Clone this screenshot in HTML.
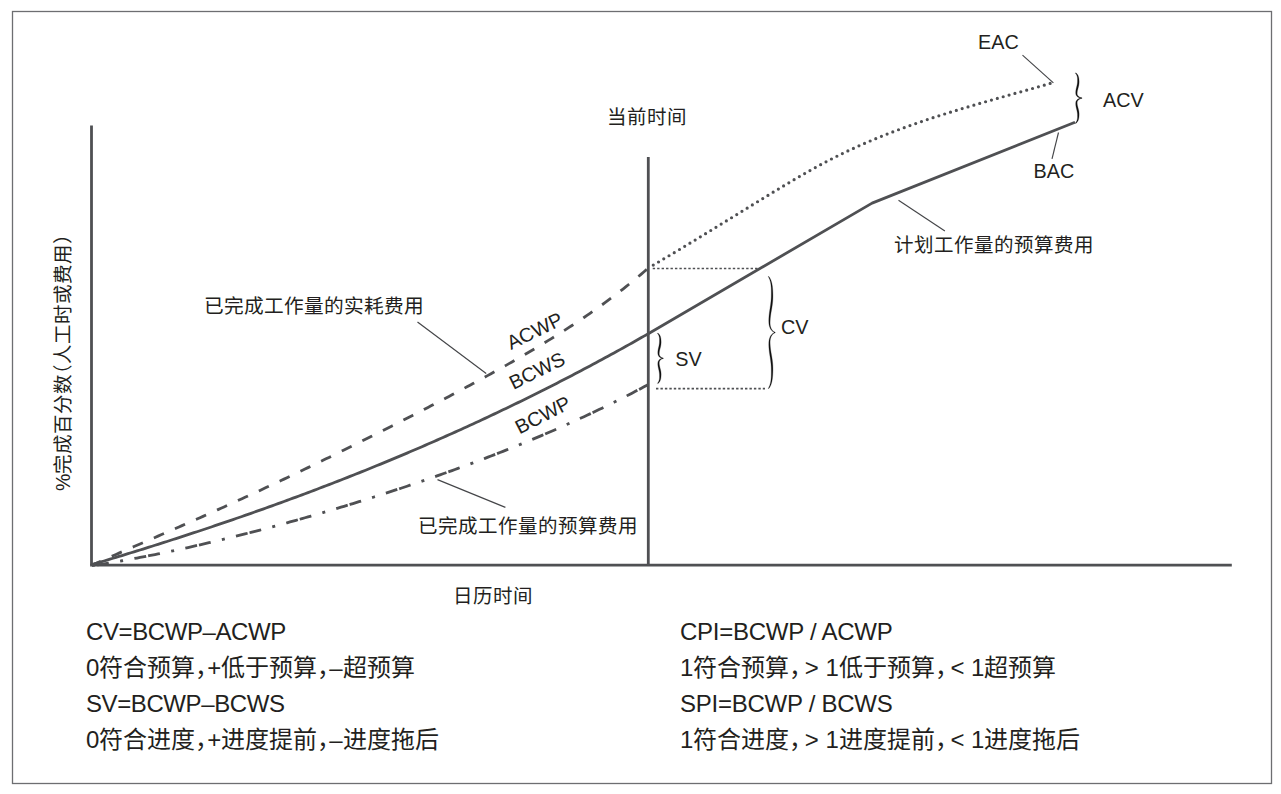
<!DOCTYPE html>
<html lang="zh-CN"><head><meta charset="utf-8"><style>
html,body{margin:0;padding:0;background:#fff;width:1281px;height:794px;overflow:hidden;position:relative}
</style></head><body>
<svg width="1281" height="794" viewBox="0 0 1281 794" style="position:absolute;left:0;top:0">
<rect x="12.5" y="11.5" width="1259" height="772" fill="none" stroke="#6d6e71" stroke-width="1.3"/>
<g stroke="#4f5053" stroke-width="2.8" fill="none">
<line x1="91.5" y1="125.5" x2="91.5" y2="565"/>
<line x1="90.1" y1="565.1" x2="1231.8" y2="565.1"/>
<line x1="648.3" y1="157" x2="648.3" y2="566" stroke-width="2.8"/>
<path d="M92.00 564.57 L95.00 563.68 L98.00 562.79 L101.00 561.89 L104.00 560.99 L107.00 560.09 L110.00 559.18 L113.00 558.28 L116.00 557.37 L119.00 556.45 L122.00 555.54 L125.00 554.62 L128.00 553.70 L131.00 552.77 L134.00 551.85 L137.00 550.92 L140.00 549.99 L143.00 549.05 L146.00 548.11 L149.00 547.17 L152.00 546.23 L155.00 545.28 L158.00 544.33 L161.00 543.38 L164.00 542.42 L167.00 541.47 L170.00 540.50 L173.00 539.54 L176.00 538.57 L179.00 537.60 L182.00 536.63 L185.00 535.65 L188.00 534.67 L191.00 533.68 L194.00 532.70 L197.00 531.71 L200.00 530.71 L203.00 529.72 L206.00 528.72 L209.00 527.71 L212.00 526.71 L215.00 525.70 L218.00 524.68 L221.00 523.67 L224.00 522.65 L227.00 521.62 L230.00 520.60 L233.00 519.57 L236.00 518.53 L239.00 517.49 L242.00 516.45 L245.00 515.41 L248.00 514.36 L251.00 513.31 L254.00 512.25 L257.00 511.19 L260.00 510.13 L263.00 509.06 L266.00 507.99 L269.00 506.92 L272.00 505.84 L275.00 504.76 L278.00 503.67 L281.00 502.58 L284.00 501.49 L287.00 500.39 L290.00 499.29 L293.00 498.18 L296.00 497.08 L299.00 495.96 L302.00 494.85 L305.00 493.73 L308.00 492.60 L311.00 491.47 L314.00 490.34 L317.00 489.20 L320.00 488.06 L323.00 486.92 L326.00 485.77 L329.00 484.61 L332.00 483.45 L335.00 482.29 L338.00 481.13 L341.00 479.96 L344.00 478.78 L347.00 477.60 L350.00 476.42 L353.00 475.23 L356.00 474.04 L359.00 472.84 L362.00 471.64 L365.00 470.44 L368.00 469.23 L371.00 468.01 L374.00 466.79 L377.00 465.57 L380.00 464.34 L383.00 463.11 L386.00 461.87 L389.00 460.63 L392.00 459.39 L395.00 458.14 L398.00 456.88 L401.00 455.62 L404.00 454.36 L407.00 453.09 L410.00 451.81 L413.00 450.53 L416.00 449.25 L419.00 447.96 L422.00 446.67 L425.00 445.37 L428.00 444.07 L431.00 442.76 L434.00 441.45 L437.00 440.13 L440.00 438.81 L443.00 437.48 L446.00 436.15 L449.00 434.81 L452.00 433.47 L455.00 432.12 L458.00 430.77 L461.00 429.41 L464.00 428.05 L467.00 426.68 L470.00 425.31 L473.00 423.93 L476.00 422.55 L479.00 421.16 L482.00 419.76 L485.00 418.36 L488.00 416.96 L491.00 415.55 L494.00 414.13 L497.00 412.71 L500.00 411.29 L503.00 409.86 L506.00 408.42 L509.00 406.98 L512.00 405.53 L515.00 404.08 L518.00 402.62 L521.00 401.16 L524.00 399.69 L527.00 398.21 L530.00 396.73 L533.00 395.24 L536.00 393.75 L539.00 392.26 L542.00 390.75 L545.00 389.24 L548.00 387.73 L551.00 386.21 L554.00 384.68 L557.00 383.15 L560.00 381.61 L563.00 380.07 L566.00 378.52 L569.00 376.97 L572.00 375.41 L575.00 373.84 L578.00 372.27 L581.00 370.69 L584.00 369.10 L587.00 367.51 L590.00 365.92 L593.00 364.32 L596.00 362.71 L599.00 361.09 L602.00 359.47 L605.00 357.84 L608.00 356.21 L611.00 354.57 L614.00 352.93 L617.00 351.28 L620.00 349.62 L623.00 347.96 L626.00 346.29 L629.00 344.61 L632.00 342.93 L635.00 341.24 L638.00 339.54 L641.00 337.84 L644.00 336.13 L647.00 334.42 L650.00 332.70 L872.1 203.1 L1075 122.3" stroke-linejoin="round"/>
<path d="M92.00 565.12 L95.00 563.77 L98.00 562.42 L101.00 561.08 L104.00 559.74 L107.00 558.41 L110.00 557.09 L113.00 555.76 L116.00 554.44 L119.00 553.12 L122.00 551.81 L125.00 550.50 L128.00 549.19 L131.00 547.88 L134.00 546.57 L137.00 545.26 L140.00 543.96 L143.00 542.65 L146.00 541.34 L149.00 540.04 L152.00 538.73 L155.00 537.43 L158.00 536.12 L161.00 534.82 L164.00 533.51 L167.00 532.20 L170.00 530.89 L173.00 529.58 L176.00 528.26 L179.00 526.95 L182.00 525.63 L185.00 524.31 L188.00 522.99 L191.00 521.67 L194.00 520.34 L197.00 519.01 L200.00 517.68 L203.00 516.35 L206.00 515.01 L209.00 513.67 L212.00 512.33 L215.00 510.98 L218.00 509.63 L221.00 508.28 L224.00 506.93 L227.00 505.57 L230.00 504.21 L233.00 502.84 L236.00 501.47 L239.00 500.10 L242.00 498.73 L245.00 497.35 L248.00 495.97 L251.00 494.58 L254.00 493.19 L257.00 491.80 L260.00 490.40 L263.00 489.01 L266.00 487.60 L269.00 486.20 L272.00 484.79 L275.00 483.38 L278.00 481.96 L281.00 480.54 L284.00 479.12 L287.00 477.69 L290.00 476.26 L293.00 474.83 L296.00 473.39 L299.00 471.95 L302.00 470.51 L305.00 469.07 L308.00 467.62 L311.00 466.17 L314.00 464.71 L317.00 463.25 L320.00 461.79 L323.00 460.33 L326.00 458.86 L329.00 457.39 L332.00 455.92 L335.00 454.45 L338.00 452.97 L341.00 451.49 L344.00 450.00 L347.00 448.52 L350.00 447.03 L353.00 445.54 L356.00 444.04 L359.00 442.55 L362.00 441.05 L365.00 439.55 L368.00 438.04 L371.00 436.53 L374.00 435.03 L377.00 433.51 L380.00 432.00 L383.00 430.48 L386.00 428.96 L389.00 427.44 L392.00 425.91 L395.00 424.39 L398.00 422.86 L401.00 421.32 L404.00 419.79 L407.00 418.25 L410.00 416.71 L413.00 415.16 L416.00 413.62 L419.00 412.07 L422.00 410.51 L425.00 408.96 L428.00 407.40 L431.00 405.84 L434.00 404.27 L437.00 402.70 L440.00 401.13 L443.00 399.55 L446.00 397.97 L449.00 396.39 L452.00 394.80 L455.00 393.21 L458.00 391.61 L461.00 390.01 L464.00 388.41 L467.00 386.80 L470.00 385.18 L473.00 383.56 L476.00 381.94 L479.00 380.31 L482.00 378.67 L485.00 377.03 L488.00 375.38 L491.00 373.73 L494.00 372.07 L497.00 370.40 L500.00 368.72 L503.00 367.04 L506.00 365.35 L509.00 363.65 L512.00 361.94 L515.00 360.23 L518.00 358.50 L521.00 356.77 L524.00 355.03 L527.00 353.27 L530.00 351.51 L533.00 349.73 L536.00 347.95 L539.00 346.15 L542.00 344.34 L545.00 342.52 L548.00 340.68 L551.00 338.83 L554.00 336.97 L557.00 335.10 L560.00 333.20 L563.00 331.30 L566.00 329.38 L569.00 327.44 L572.00 325.48 L575.00 323.51 L578.00 321.52 L581.00 319.51 L584.00 317.48 L587.00 315.43 L590.00 313.36 L593.00 311.26 L596.00 309.15 L599.00 307.02 L602.00 304.86 L605.00 302.67 L608.00 300.46 L611.00 298.23 L614.00 295.97 L617.00 293.68 L620.00 291.37 L623.00 289.03 L626.00 286.65 L629.00 284.25 L632.00 281.82 L635.00 279.35 L638.00 276.85 L641.00 274.32 L644.00 271.75 L647.00 269.14 L648.00 268.27" stroke-dasharray="11 12" stroke-dashoffset="1.4"/>
<path d="M92.00 565.69 L95.00 565.23 L98.00 564.76 L101.00 564.29 L104.00 563.80 L107.00 563.31 L110.00 562.81 L113.00 562.31 L116.00 561.80 L119.00 561.27 L122.00 560.75 L125.00 560.21 L128.00 559.67 L131.00 559.12 L134.00 558.57 L137.00 558.01 L140.00 557.44 L143.00 556.87 L146.00 556.29 L149.00 555.70 L152.00 555.10 L155.00 554.51 L158.00 553.90 L161.00 553.29 L164.00 552.67 L167.00 552.05 L170.00 551.42 L173.00 550.78 L176.00 550.14 L179.00 549.49 L182.00 548.84 L185.00 548.18 L188.00 547.52 L191.00 546.85 L194.00 546.17 L197.00 545.49 L200.00 544.81 L203.00 544.12 L206.00 543.42 L209.00 542.72 L212.00 542.01 L215.00 541.30 L218.00 540.58 L221.00 539.86 L224.00 539.13 L227.00 538.40 L230.00 537.67 L233.00 536.92 L236.00 536.18 L239.00 535.43 L242.00 534.67 L245.00 533.91 L248.00 533.15 L251.00 532.38 L254.00 531.60 L257.00 530.82 L260.00 530.04 L263.00 529.25 L266.00 528.46 L269.00 527.66 L272.00 526.86 L275.00 526.05 L278.00 525.24 L281.00 524.42 L284.00 523.60 L287.00 522.78 L290.00 521.95 L293.00 521.12 L296.00 520.28 L299.00 519.44 L302.00 518.59 L305.00 517.74 L308.00 516.89 L311.00 516.03 L314.00 515.17 L317.00 514.30 L320.00 513.43 L323.00 512.55 L326.00 511.67 L329.00 510.78 L332.00 509.89 L335.00 509.00 L338.00 508.10 L341.00 507.20 L344.00 506.29 L347.00 505.38 L350.00 504.46 L353.00 503.54 L356.00 502.62 L359.00 501.69 L362.00 500.76 L365.00 499.82 L368.00 498.88 L371.00 497.93 L374.00 496.98 L377.00 496.02 L380.00 495.06 L383.00 494.10 L386.00 493.13 L389.00 492.16 L392.00 491.18 L395.00 490.19 L398.00 489.20 L401.00 488.21 L404.00 487.21 L407.00 486.21 L410.00 485.20 L413.00 484.19 L416.00 483.17 L419.00 482.15 L422.00 481.13 L425.00 480.09 L428.00 479.06 L431.00 478.01 L434.00 476.97 L437.00 475.91 L440.00 474.86 L443.00 473.79 L446.00 472.72 L449.00 471.65 L452.00 470.57 L455.00 469.48 L458.00 468.39 L461.00 467.30 L464.00 466.20 L467.00 465.09 L470.00 463.98 L473.00 462.86 L476.00 461.73 L479.00 460.60 L482.00 459.46 L485.00 458.32 L488.00 457.17 L491.00 456.01 L494.00 454.85 L497.00 453.68 L500.00 452.51 L503.00 451.33 L506.00 450.14 L509.00 448.95 L512.00 447.74 L515.00 446.54 L518.00 445.32 L521.00 444.10 L524.00 442.87 L527.00 441.63 L530.00 440.39 L533.00 439.14 L536.00 437.88 L539.00 436.62 L542.00 435.34 L545.00 434.06 L548.00 432.77 L551.00 431.48 L554.00 430.17 L557.00 428.86 L560.00 427.54 L563.00 426.21 L566.00 424.87 L569.00 423.53 L572.00 422.17 L575.00 420.81 L578.00 419.44 L581.00 418.06 L584.00 416.67 L587.00 415.27 L590.00 413.87 L593.00 412.45 L596.00 411.02 L599.00 409.59 L602.00 408.14 L605.00 406.69 L608.00 405.22 L611.00 403.75 L614.00 402.27 L617.00 400.77 L620.00 399.27 L623.00 397.75 L626.00 396.23 L629.00 394.69 L632.00 393.14 L635.00 391.59 L638.00 390.02 L641.00 388.44 L644.00 386.84 L647.00 385.24 L648.20 384.60" stroke-dasharray="12 2 12 11.5 3 11.5" stroke-dashoffset="9"/>
<path d="M648.50 267.84 L651.50 266.09 L654.50 264.34 L657.50 262.58 L660.50 260.81 L663.50 259.03 L666.50 257.25 L669.50 255.47 L672.50 253.68 L675.50 251.88 L678.50 250.08 L681.50 248.28 L684.50 246.47 L687.50 244.66 L690.50 242.84 L693.50 241.02 L696.50 239.20 L699.50 237.37 L702.50 235.54 L705.50 233.71 L708.50 231.88 L711.50 230.04 L714.50 228.20 L717.50 226.36 L720.50 224.52 L723.50 222.68 L726.50 220.83 L729.50 218.99 L732.50 217.15 L735.50 215.30 L738.50 213.45 L741.50 211.61 L744.50 209.77 L747.50 207.92 L750.50 206.08 L753.50 204.24 L756.50 202.40 L759.50 200.56 L762.50 198.72 L765.50 196.89 L768.50 195.05 L771.50 193.22 L774.50 191.40 L777.50 189.58 L780.50 187.77 L783.50 185.97 L786.50 184.17 L789.50 182.39 L792.50 180.61 L795.50 178.85 L798.50 177.10 L801.50 175.37 L804.50 173.65 L807.50 171.94 L810.50 170.25 L813.50 168.58 L816.50 166.93 L819.50 165.30 L822.50 163.69 L825.50 162.10 L828.50 160.53 L831.50 158.99 L834.50 157.47 L837.50 155.97 L840.50 154.50 L843.50 153.04 L846.50 151.61 L849.50 150.20 L852.50 148.80 L855.50 147.43 L858.50 146.08 L861.50 144.75 L864.50 143.43 L867.50 142.14 L870.50 140.86 L873.50 139.60 L876.50 138.36 L879.50 137.13 L882.50 135.92 L885.50 134.73 L888.50 133.55 L891.50 132.39 L894.50 131.24 L897.50 130.11 L900.50 129.00 L903.50 127.89 L906.50 126.80 L909.50 125.73 L912.50 124.67 L915.50 123.62 L918.50 122.58 L921.50 121.55 L924.50 120.54 L927.50 119.53 L930.50 118.54 L933.50 117.56 L936.50 116.59 L939.50 115.62 L942.50 114.67 L945.50 113.73 L948.50 112.79 L951.50 111.86 L954.50 110.94 L957.50 110.03 L960.50 109.12 L963.50 108.22 L966.50 107.33 L969.50 106.44 L972.50 105.56 L975.50 104.68 L978.50 103.81 L981.50 102.94 L984.50 102.08 L987.50 101.22 L990.50 100.36 L993.50 99.51 L996.50 98.66 L999.50 97.81 L1002.50 96.96 L1005.50 96.12 L1008.50 95.27 L1011.50 94.43 L1014.50 93.59 L1017.50 92.74 L1020.50 91.90 L1023.50 91.05 L1026.50 90.21 L1029.50 89.36 L1032.50 88.51 L1035.50 87.66 L1038.50 86.80 L1041.50 85.94 L1044.50 85.08 L1047.50 84.22 L1050.50 83.35 L1051.70 83.00" stroke-dasharray="0 6.1" stroke-dashoffset="-5.5" stroke-linecap="round" stroke-width="3.2"/>
</g>
<g stroke="#4f5053" stroke-width="1.7" fill="none" stroke-dasharray="2.4 2.05">
<line x1="652.7" y1="268.5" x2="758" y2="268.5"/>
<line x1="656" y1="388.7" x2="765" y2="388.7"/>
</g>
<g stroke="#444548" stroke-width="1.15" fill="none">
<line x1="417.5" y1="322" x2="486.2" y2="373.5"/>
<line x1="437.5" y1="479.6" x2="505.4" y2="507.4"/>
<line x1="898.5" y1="200.3" x2="944.9" y2="230.9"/>
<line x1="1022.5" y1="55.1" x2="1053.4" y2="82.9"/>
<line x1="1058.5" y1="132.5" x2="1052" y2="158.8"/>
</g>
<g fill="#111" stroke="#111" stroke-width="0.25">
<path d="M657.42 333.41 L657.67 333.69 L657.90 333.97 L658.11 334.25 L658.31 334.54 L658.48 334.83 L658.64 335.13 L658.78 335.43 L658.90 335.74 L659.01 336.06 L659.11 336.38 L659.19 336.72 L659.27 337.06 L659.33 337.40 L659.38 337.76 L659.42 338.12 L659.45 338.49 L659.48 338.87 L659.49 339.26 L659.50 339.65 L659.51 340.05 L659.51 340.46 L659.50 340.88 L659.49 341.30 L659.48 341.73 L659.46 342.32 L659.42 342.89 L659.36 343.45 L659.29 343.98 L659.21 344.51 L659.12 345.02 L659.02 345.53 L658.92 346.03 L658.81 346.52 L658.69 347.01 L658.58 347.50 L658.47 347.99 L658.36 348.49 L658.25 348.98 L658.15 349.48 L658.06 349.98 L657.98 350.49 L657.92 351.01 L657.87 351.54 L657.84 352.08 L657.83 352.63 L657.84 353.19 L657.88 353.76 L657.95 354.36 L658.05 354.75 L658.16 355.07 L658.28 355.37 L658.42 355.66 L658.58 355.93 L658.74 356.19 L658.92 356.43 L659.11 356.66 L659.31 356.86 L659.52 357.06 L659.74 357.24 L659.97 357.40 L660.21 357.55 L660.45 357.69 L660.70 357.81 L660.96 357.92 L661.22 358.02 L661.49 358.11 L661.76 358.18 L662.03 358.26 L662.30 358.35 L662.58 358.43 L662.86 358.50 L663.14 358.57 L663.26 358.03 L662.99 357.97 L662.72 357.90 L662.46 357.82 L662.20 357.74 L661.96 357.65 L661.73 357.52 L661.50 357.39 L661.29 357.27 L661.08 357.13 L660.89 356.99 L660.70 356.84 L660.52 356.69 L660.36 356.53 L660.20 356.36 L660.06 356.19 L659.92 356.00 L659.80 355.81 L659.69 355.61 L659.59 355.40 L659.49 355.17 L659.41 354.94 L659.34 354.69 L659.29 354.43 L659.25 354.20 L659.24 353.70 L659.26 353.18 L659.29 352.68 L659.34 352.19 L659.40 351.71 L659.48 351.23 L659.57 350.76 L659.67 350.29 L659.77 349.82 L659.89 349.35 L660.01 348.88 L660.13 348.40 L660.26 347.91 L660.39 347.42 L660.51 346.92 L660.63 346.40 L660.74 345.87 L660.84 345.33 L660.93 344.77 L661.00 344.20 L661.06 343.61 L661.10 343.01 L661.12 342.38 L661.12 341.74 L661.10 341.29 L661.08 340.85 L661.06 340.42 L661.03 339.99 L660.99 339.56 L660.95 339.14 L660.89 338.73 L660.83 338.32 L660.75 337.92 L660.67 337.52 L660.57 337.13 L660.46 336.75 L660.33 336.37 L660.19 336.01 L660.03 335.65 L659.86 335.31 L659.67 334.97 L659.46 334.64 L659.23 334.33 L658.98 334.03 L658.71 333.74 L658.42 333.47 L658.11 333.22 L657.78 332.99Z M657.78 383.61 L658.11 383.38 L658.42 383.13 L658.71 382.86 L658.98 382.57 L659.23 382.27 L659.46 381.96 L659.67 381.63 L659.86 381.29 L660.03 380.95 L660.19 380.59 L660.33 380.23 L660.46 379.85 L660.57 379.47 L660.67 379.08 L660.75 378.68 L660.83 378.28 L660.89 377.87 L660.95 377.46 L660.99 377.04 L661.03 376.61 L661.06 376.18 L661.08 375.75 L661.10 375.31 L661.12 374.86 L661.12 374.22 L661.10 373.59 L661.06 372.99 L661.00 372.40 L660.93 371.83 L660.84 371.27 L660.74 370.73 L660.63 370.20 L660.51 369.68 L660.39 369.18 L660.26 368.69 L660.13 368.20 L660.01 367.72 L659.89 367.25 L659.77 366.78 L659.67 366.31 L659.57 365.84 L659.48 365.37 L659.40 364.89 L659.34 364.41 L659.29 363.92 L659.26 363.42 L659.24 362.90 L659.25 362.40 L659.29 362.17 L659.34 361.91 L659.41 361.66 L659.49 361.43 L659.59 361.20 L659.69 360.99 L659.80 360.79 L659.92 360.60 L660.06 360.41 L660.20 360.24 L660.36 360.07 L660.52 359.91 L660.70 359.76 L660.89 359.61 L661.08 359.47 L661.29 359.33 L661.50 359.21 L661.73 359.08 L661.96 358.95 L662.20 358.86 L662.46 358.78 L662.72 358.70 L662.99 358.63 L663.26 358.57 L663.14 358.03 L662.86 358.10 L662.58 358.17 L662.30 358.25 L662.03 358.34 L661.76 358.42 L661.49 358.49 L661.22 358.58 L660.96 358.68 L660.70 358.79 L660.45 358.91 L660.21 359.05 L659.97 359.20 L659.74 359.36 L659.52 359.54 L659.31 359.74 L659.11 359.94 L658.92 360.17 L658.74 360.41 L658.58 360.67 L658.42 360.94 L658.28 361.23 L658.16 361.53 L658.05 361.85 L657.95 362.24 L657.88 362.84 L657.84 363.41 L657.83 363.97 L657.84 364.52 L657.87 365.06 L657.92 365.59 L657.98 366.11 L658.06 366.62 L658.15 367.12 L658.25 367.62 L658.36 368.11 L658.47 368.61 L658.58 369.10 L658.69 369.59 L658.81 370.08 L658.92 370.57 L659.02 371.07 L659.12 371.58 L659.21 372.09 L659.29 372.62 L659.36 373.15 L659.42 373.71 L659.46 374.28 L659.48 374.87 L659.49 375.30 L659.50 375.72 L659.51 376.14 L659.51 376.55 L659.50 376.95 L659.49 377.34 L659.48 377.73 L659.45 378.11 L659.42 378.48 L659.38 378.84 L659.33 379.20 L659.27 379.54 L659.19 379.88 L659.11 380.22 L659.01 380.54 L658.90 380.86 L658.78 381.17 L658.64 381.47 L658.48 381.77 L658.31 382.06 L658.11 382.35 L657.90 382.63 L657.67 382.91 L657.42 383.19Z"/>
<path d="M768.27 276.66 L768.62 277.24 L768.95 277.84 L769.24 278.46 L769.52 279.09 L769.77 279.74 L769.99 280.42 L770.20 281.11 L770.38 281.82 L770.54 282.55 L770.68 283.30 L770.81 284.07 L770.92 284.85 L771.01 285.66 L771.08 286.48 L771.15 287.31 L771.20 288.17 L771.24 289.04 L771.26 289.92 L771.28 290.82 L771.29 291.74 L771.30 292.67 L771.30 293.61 L771.29 294.57 L771.28 295.54 L771.25 296.90 L771.19 298.21 L771.11 299.49 L771.02 300.73 L770.90 301.94 L770.77 303.12 L770.63 304.28 L770.47 305.41 L770.31 306.53 L770.15 307.64 L769.98 308.74 L769.81 309.83 L769.65 310.91 L769.49 312.00 L769.35 313.09 L769.21 314.19 L769.09 315.29 L768.98 316.41 L768.90 317.55 L768.84 318.70 L768.81 319.88 L768.81 321.08 L768.84 322.31 L768.91 323.57 L769.00 324.29 L769.12 324.96 L769.25 325.59 L769.40 326.19 L769.57 326.76 L769.76 327.30 L769.96 327.80 L770.18 328.28 L770.42 328.73 L770.66 329.15 L770.92 329.55 L771.20 329.92 L771.48 330.26 L771.77 330.58 L772.08 330.87 L772.39 331.14 L772.71 331.39 L773.02 331.64 L773.34 331.86 L773.66 332.07 L773.99 332.26 L774.32 332.44 L774.66 332.60 L774.99 332.75 L775.21 332.25 L774.89 332.10 L774.57 331.95 L774.26 331.78 L773.95 331.60 L773.64 331.41 L773.35 331.19 L773.06 330.97 L772.78 330.71 L772.52 330.43 L772.27 330.13 L772.03 329.82 L771.80 329.48 L771.58 329.13 L771.37 328.75 L771.17 328.35 L770.99 327.92 L770.82 327.47 L770.67 326.99 L770.53 326.49 L770.41 325.95 L770.30 325.38 L770.21 324.78 L770.14 324.15 L770.09 323.51 L770.09 322.29 L770.12 321.09 L770.18 319.93 L770.26 318.79 L770.37 317.67 L770.49 316.56 L770.63 315.47 L770.78 314.39 L770.95 313.32 L771.12 312.25 L771.30 311.17 L771.49 310.09 L771.67 309.01 L771.85 307.91 L772.03 306.79 L772.20 305.66 L772.36 304.50 L772.51 303.32 L772.64 302.11 L772.74 300.87 L772.83 299.60 L772.89 298.29 L772.92 296.94 L772.92 295.54 L772.91 294.56 L772.89 293.60 L772.86 292.64 L772.82 291.70 L772.78 290.77 L772.72 289.85 L772.65 288.95 L772.58 288.06 L772.48 287.19 L772.38 286.33 L772.25 285.49 L772.11 284.67 L771.96 283.86 L771.78 283.07 L771.59 282.30 L771.37 281.55 L771.13 280.82 L770.87 280.11 L770.58 279.42 L770.27 278.75 L769.93 278.11 L769.56 277.49 L769.16 276.90 L768.73 276.34Z M768.73 388.66 L769.16 388.10 L769.56 387.51 L769.93 386.89 L770.27 386.25 L770.58 385.58 L770.87 384.89 L771.13 384.18 L771.37 383.45 L771.59 382.70 L771.78 381.93 L771.96 381.14 L772.11 380.33 L772.25 379.51 L772.38 378.67 L772.48 377.81 L772.58 376.94 L772.65 376.05 L772.72 375.15 L772.78 374.23 L772.82 373.30 L772.86 372.36 L772.89 371.40 L772.91 370.44 L772.92 369.46 L772.92 368.06 L772.89 366.71 L772.83 365.40 L772.74 364.13 L772.64 362.89 L772.51 361.68 L772.36 360.50 L772.20 359.34 L772.03 358.21 L771.85 357.09 L771.67 355.99 L771.49 354.91 L771.30 353.83 L771.12 352.75 L770.95 351.68 L770.78 350.61 L770.63 349.53 L770.49 348.44 L770.37 347.33 L770.26 346.21 L770.18 345.07 L770.12 343.91 L770.09 342.71 L770.09 341.49 L770.14 340.85 L770.21 340.22 L770.30 339.62 L770.41 339.05 L770.53 338.51 L770.67 338.01 L770.82 337.53 L770.99 337.08 L771.17 336.65 L771.37 336.25 L771.58 335.87 L771.80 335.52 L772.03 335.18 L772.27 334.87 L772.52 334.57 L772.78 334.29 L773.06 334.03 L773.35 333.81 L773.64 333.59 L773.95 333.40 L774.26 333.22 L774.57 333.05 L774.89 332.90 L775.21 332.75 L774.99 332.25 L774.66 332.40 L774.32 332.56 L773.99 332.74 L773.66 332.93 L773.34 333.14 L773.02 333.36 L772.71 333.61 L772.39 333.86 L772.08 334.13 L771.77 334.42 L771.48 334.74 L771.20 335.08 L770.92 335.45 L770.66 335.85 L770.42 336.27 L770.18 336.72 L769.96 337.20 L769.76 337.70 L769.57 338.24 L769.40 338.81 L769.25 339.41 L769.12 340.04 L769.00 340.71 L768.91 341.43 L768.84 342.69 L768.81 343.92 L768.81 345.12 L768.84 346.30 L768.90 347.45 L768.98 348.59 L769.09 349.71 L769.21 350.81 L769.35 351.91 L769.49 353.00 L769.65 354.09 L769.81 355.17 L769.98 356.26 L770.15 357.36 L770.31 358.47 L770.47 359.59 L770.63 360.72 L770.77 361.88 L770.90 363.06 L771.02 364.27 L771.11 365.51 L771.19 366.79 L771.25 368.10 L771.28 369.46 L771.29 370.43 L771.30 371.39 L771.30 372.33 L771.29 373.26 L771.28 374.18 L771.26 375.08 L771.24 375.96 L771.20 376.83 L771.15 377.69 L771.08 378.52 L771.01 379.34 L770.92 380.15 L770.81 380.93 L770.68 381.70 L770.54 382.45 L770.38 383.18 L770.20 383.89 L769.99 384.58 L769.77 385.26 L769.52 385.91 L769.24 386.54 L768.95 387.16 L768.62 387.76 L768.27 388.34Z"/>
<path d="M1075.32 73.21 L1075.59 73.50 L1075.83 73.78 L1076.05 74.06 L1076.25 74.35 L1076.43 74.64 L1076.60 74.94 L1076.74 75.24 L1076.87 75.55 L1076.99 75.87 L1077.09 76.19 L1077.18 76.52 L1077.26 76.86 L1077.32 77.21 L1077.37 77.56 L1077.42 77.92 L1077.45 78.29 L1077.48 78.67 L1077.50 79.06 L1077.51 79.45 L1077.51 79.85 L1077.51 80.26 L1077.51 80.68 L1077.50 81.10 L1077.49 81.53 L1077.46 82.12 L1077.42 82.69 L1077.36 83.24 L1077.29 83.78 L1077.20 84.30 L1077.11 84.82 L1077.00 85.32 L1076.89 85.82 L1076.78 86.31 L1076.66 86.80 L1076.53 87.29 L1076.41 87.78 L1076.30 88.27 L1076.18 88.77 L1076.08 89.27 L1075.98 89.77 L1075.89 90.28 L1075.82 90.80 L1075.77 91.33 L1075.73 91.87 L1075.72 92.42 L1075.72 92.98 L1075.76 93.56 L1075.83 94.17 L1075.93 94.56 L1076.05 94.89 L1076.19 95.21 L1076.35 95.50 L1076.53 95.78 L1076.72 96.04 L1076.93 96.29 L1077.15 96.51 L1077.39 96.72 L1077.64 96.91 L1077.90 97.09 L1078.17 97.25 L1078.44 97.39 L1078.73 97.53 L1079.02 97.65 L1079.32 97.75 L1079.63 97.85 L1079.94 97.93 L1080.25 98.00 L1080.57 98.07 L1080.88 98.15 L1081.20 98.23 L1081.52 98.30 L1081.84 98.37 L1081.96 97.83 L1081.64 97.77 L1081.33 97.70 L1081.02 97.62 L1080.72 97.54 L1080.44 97.42 L1080.16 97.29 L1079.89 97.17 L1079.63 97.03 L1079.37 96.90 L1079.13 96.75 L1078.91 96.60 L1078.69 96.44 L1078.48 96.28 L1078.29 96.11 L1078.12 95.93 L1077.95 95.75 L1077.80 95.56 L1077.67 95.36 L1077.55 95.15 L1077.44 94.93 L1077.35 94.70 L1077.27 94.47 L1077.21 94.22 L1077.17 94.00 L1077.17 93.50 L1077.18 92.98 L1077.21 92.48 L1077.26 92.00 L1077.32 91.52 L1077.40 91.04 L1077.50 90.57 L1077.60 90.10 L1077.71 89.63 L1077.83 89.16 L1077.96 88.69 L1078.09 88.21 L1078.22 87.73 L1078.35 87.23 L1078.47 86.73 L1078.60 86.21 L1078.71 85.68 L1078.82 85.14 L1078.91 84.58 L1078.99 84.01 L1079.05 83.42 L1079.10 82.81 L1079.12 82.18 L1079.11 81.54 L1079.10 81.09 L1079.08 80.65 L1079.05 80.22 L1079.02 79.79 L1078.98 79.36 L1078.94 78.94 L1078.88 78.53 L1078.82 78.12 L1078.74 77.71 L1078.65 77.32 L1078.55 76.93 L1078.43 76.54 L1078.30 76.17 L1078.16 75.80 L1078.00 75.45 L1077.82 75.10 L1077.62 74.76 L1077.41 74.44 L1077.17 74.12 L1076.91 73.82 L1076.64 73.54 L1076.34 73.27 L1076.02 73.01 L1075.68 72.79Z M1075.68 123.41 L1076.02 123.19 L1076.34 122.93 L1076.64 122.66 L1076.91 122.38 L1077.17 122.08 L1077.41 121.76 L1077.62 121.44 L1077.82 121.10 L1078.00 120.75 L1078.16 120.40 L1078.30 120.03 L1078.43 119.66 L1078.55 119.27 L1078.65 118.88 L1078.74 118.49 L1078.82 118.08 L1078.88 117.67 L1078.94 117.26 L1078.98 116.84 L1079.02 116.41 L1079.05 115.98 L1079.08 115.55 L1079.10 115.11 L1079.11 114.66 L1079.12 114.02 L1079.10 113.39 L1079.05 112.78 L1078.99 112.19 L1078.91 111.62 L1078.82 111.06 L1078.71 110.52 L1078.60 109.99 L1078.47 109.47 L1078.35 108.97 L1078.22 108.47 L1078.09 107.99 L1077.96 107.51 L1077.83 107.04 L1077.71 106.57 L1077.60 106.10 L1077.50 105.63 L1077.40 105.16 L1077.32 104.68 L1077.26 104.20 L1077.21 103.72 L1077.18 103.22 L1077.17 102.70 L1077.17 102.20 L1077.21 101.98 L1077.27 101.73 L1077.35 101.50 L1077.44 101.27 L1077.55 101.05 L1077.67 100.84 L1077.80 100.64 L1077.95 100.45 L1078.12 100.27 L1078.29 100.09 L1078.48 99.92 L1078.69 99.76 L1078.91 99.60 L1079.13 99.45 L1079.37 99.30 L1079.63 99.17 L1079.89 99.03 L1080.16 98.91 L1080.44 98.78 L1080.72 98.66 L1081.02 98.58 L1081.33 98.50 L1081.64 98.43 L1081.96 98.37 L1081.84 97.83 L1081.52 97.90 L1081.20 97.97 L1080.88 98.05 L1080.57 98.13 L1080.25 98.20 L1079.94 98.27 L1079.63 98.35 L1079.32 98.45 L1079.02 98.55 L1078.73 98.67 L1078.44 98.81 L1078.17 98.95 L1077.90 99.11 L1077.64 99.29 L1077.39 99.48 L1077.15 99.69 L1076.93 99.91 L1076.72 100.16 L1076.53 100.42 L1076.35 100.70 L1076.19 100.99 L1076.05 101.31 L1075.93 101.64 L1075.83 102.03 L1075.76 102.64 L1075.72 103.22 L1075.72 103.78 L1075.73 104.33 L1075.77 104.87 L1075.82 105.40 L1075.89 105.92 L1075.98 106.43 L1076.08 106.93 L1076.18 107.43 L1076.30 107.93 L1076.41 108.42 L1076.53 108.91 L1076.66 109.40 L1076.78 109.89 L1076.89 110.38 L1077.00 110.88 L1077.11 111.38 L1077.20 111.90 L1077.29 112.42 L1077.36 112.96 L1077.42 113.51 L1077.46 114.08 L1077.49 114.67 L1077.50 115.10 L1077.51 115.52 L1077.51 115.94 L1077.51 116.35 L1077.51 116.75 L1077.50 117.14 L1077.48 117.53 L1077.45 117.91 L1077.42 118.28 L1077.37 118.64 L1077.32 118.99 L1077.26 119.34 L1077.18 119.68 L1077.09 120.01 L1076.99 120.33 L1076.87 120.65 L1076.74 120.96 L1076.60 121.26 L1076.43 121.56 L1076.25 121.85 L1076.05 122.14 L1075.83 122.42 L1075.59 122.70 L1075.32 122.99Z"/>
</g>
<g font-family="'Liberation Sans', sans-serif" fill="#231f20" font-size="19.8" style="font-feature-settings:'halt'">
<text x="978" y="49">EAC</text>
<text x="1103" y="106.6">ACV</text>
<text x="1033.5" y="177.5">BAC</text>
<text x="675.3" y="365.8">SV</text>
<text x="781" y="333.7">CV</text>
<text x="606.6" y="124" font-size="19.5">当前时间</text>
<text x="452.5" y="603" font-size="19.5">日历时间</text>
<text x="204.3" y="313" font-size="19.7">已完成工作量的实耗费用</text>
<text x="417.5" y="532.5" font-size="19.5">已完成工作量的预算费用</text>
<text x="894" y="252" font-size="19.5">计划工作量的预算费用</text>
<text transform="translate(511,350) rotate(-26)">ACWP</text>
<text transform="translate(513.5,390) rotate(-26.5)">BCWS</text>
<text transform="translate(519.5,434.5) rotate(-27)">BCWP</text>
<text transform="translate(69.6,491) rotate(-90)" font-size="19.5">%完成百分数（人工时或费用）</text>
</g>
<g font-family="'Liberation Sans', sans-serif" fill="#231f20" font-size="24" style="font-feature-settings:'halt'">
<text x="86" y="639.5" letter-spacing="-0.4">CV=BCWP–ACWP</text>
<text x="86" y="675.7">0符合预算，+低于预算，–超预算</text>
<text x="86" y="711.8" letter-spacing="-0.4">SV=BCWP–BCWS</text>
<text x="86" y="747.6">0符合进度，+进度提前，–进度拖后</text>
<text x="680" y="639.5" letter-spacing="-0.25">CPI=BCWP / ACWP</text>
<text x="680" y="675.7">1符合预算，<tspan dx="3.5">&gt; 1低于预算，</tspan><tspan dx="3.5">&lt; 1超预算</tspan></text>
<text x="680" y="711.8" letter-spacing="-0.25">SPI=BCWP / BCWS</text>
<text x="680" y="747.6">1符合进度，<tspan dx="3.5">&gt; 1进度提前，</tspan><tspan dx="3.5">&lt; 1进度拖后</tspan></text>
</g>
</svg>
</body></html>
